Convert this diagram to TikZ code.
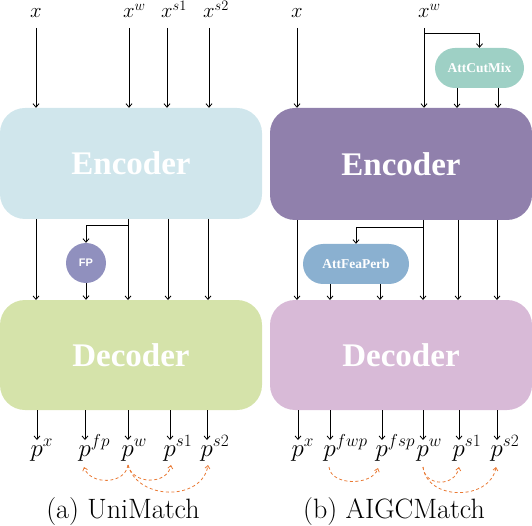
\documentclass[tikz,border=0pt]{standalone}
\usepackage{fontspec}
\newfontfamily\tnr{Liberation Serif}
\newfontfamily\arl{Liberation Sans}
\usetikzlibrary{arrows.meta,calc}
\definecolor{encLc}{HTML}{D0E6EC}
\definecolor{decLc}{HTML}{D5E3AA}
\definecolor{encRc}{HTML}{9080AC}
\definecolor{decRc}{HTML}{D8BAD7}
\definecolor{fpc}{HTML}{9090BE}
\definecolor{cutc}{HTML}{9ED0C5}
\definecolor{feac}{HTML}{8AB0D0}
\definecolor{orng}{HTML}{E97A35}
\tikzset{
  blk/.style={rounded corners=25pt, inner sep=0pt, text=white, font=\tnr\bfseries\fontsize{33}{36}\selectfont},
  pill/.style={rounded corners=20pt, minimum height=40pt, inner sep=0pt, text=white, font=\tnr\bfseries\fontsize{13.5}{14}\selectfont},
  arr/.style={line width=0.8pt, -{Straight Barb[length=3.5pt,width=6pt]}},
  supv/.style={orng, line width=0.8pt, dash pattern=on 3pt off 2.5pt, -{Straight Barb[length=3pt,width=5pt]}},
  lab/.style={inner sep=0pt, font=\fontsize{22}{24}\selectfont, anchor=base west},
  plab/.style={inner sep=0pt, font=\fontsize{24}{26}\selectfont, anchor=base west},
  captxt/.style={inner sep=0pt, font=\fontsize{28}{30}\selectfont, anchor=base}
}
\begin{document}
\begin{tikzpicture}[x=1pt,y=-1pt]
\useasboundingbox (0,0) rectangle (532,526);
% ---------- left panel ----------
\node[blk, fill=encLc, minimum width=262pt, minimum height=111pt] (encL) at (131,163.5) {Encoder};
\node[blk, fill=decLc, minimum width=262pt, minimum height=110pt] (decL) at (131,355) {Decoder};
\node[circle, fill=fpc, minimum size=40pt, inner sep=0pt, text=white, font=\arl\bfseries\fontsize{11}{12}\selectfont] (fp) at (86,263) {FP};
% inputs
\coordinate (ax) at (36,28);
\coordinate (aw) at (129,28);
\coordinate (as1) at (167,28);
\coordinate (as2) at (209,28);
\node[lab] (lx) at (30,18) {$x$};
\node[lab] (lw) at (123,18) {$x^{w}$};
\node[lab] (ls1) at (161,18) {$x^{s1}$};
\node[lab] (ls2) at (203,18) {$x^{s2}$};
\foreach \c in {ax,aw,as1,as2} \draw[arr] (\c) -- (\c |- encL.north);
% middle
\foreach \xx in {36,128,168,208} \draw[arr] (\xx,219) -- (\xx,300);
\coordinate (bL) at (128,225);
\draw[arr] (bL) -| (fp.north);
\draw[arr] (fp.south) -- (fp.south |- decL.north);
% outputs
\foreach \xx in {37,85,128,170,207} \draw[arr] (\xx,410) -- (\xx,440);
\node[plab] (px) at (30.5,456) {$p^{x}$};
\node[plab] (pfp) at (78.5,456) {$p^{fp}$};
\node[plab] (pw) at (121.5,456) {$p^{w}$};
\node[plab] (ps1) at (163.5,456) {$p^{s1}$};
\node[plab] (ps2) at (200.5,456) {$p^{s2}$};
\coordinate (cfp) at (84,467);
\coordinate (cw) at (128,465);
\coordinate (cs1) at (171,465);
\coordinate (cs2) at (208,465);
\draw[supv] (cw) .. controls (125,485) and (90,485) .. (cfp);
\draw[supv] (cw) .. controls (133,485) and (167,485) .. (cs1);
\draw[supv] (cw) .. controls (138,501) and (202,501) .. (cs2);
\node[captxt] (capa) at (123,518) {(a) UniMatch};
% ---------- right panel ----------
\node[blk, fill=encRc, minimum width=262pt, minimum height=112pt] (encR) at (401,164) {Encoder};
\node[blk, fill=decRc, minimum width=262pt, minimum height=110pt] (decR) at (401,355) {Decoder};
\node[pill, fill=cutc, minimum width=89pt] (cut) at (479.5,68) {AttCutMix};
\node[pill, fill=feac, minimum width=106pt] (fea) at (356,264) {AttFeaPerb};
\coordinate (bx) at (297,28);
\coordinate (bw) at (424,28);
\node[lab] (rx) at (291,18) {$x$};
\node[lab] (rw) at (418,18) {$x^{w}$};
\draw[arr] (bx) -- (bx |- encR.north);
\draw[arr] (bw) -- (bw |- encR.north);
\coordinate (bR) at (424,33);
\draw[arr] (bR) -| (cut.north);
\draw[arr] (457,88) -- (457,108);
\draw[arr] (498,88) -- (498,108);
% middle
\foreach \xx in {297,423,458,497} \draw[arr] (\xx,220) -- (\xx,300);
\coordinate (bR2) at (423,227);
\draw[arr] (bR2) -| (fea.north);
\draw[arr] (330,284) -- (330,300);
\draw[arr] (380,284) -- (380,300);
% outputs
\foreach \xx in {298,330,382,423,459,497} \draw[arr] (\xx,410) -- (\xx,440);
\node[plab] (qx) at (291.5,456) {$p^{x}$};
\node[plab] (qfwp) at (323.5,456) {$p^{fwp}$};
\node[plab] (qfsp) at (375.5,456) {$p^{fsp}$};
\node[plab] (qw) at (416.5,456) {$p^{w}$};
\node[plab] (qs1) at (452.5,456) {$p^{s1}$};
\node[plab] (qs2) at (490.5,456) {$p^{s2}$};
\coordinate (dfwp) at (329,467);
\coordinate (dfsp) at (378,468);
\coordinate (dw) at (423,467);
\coordinate (ds1) at (459,467);
\coordinate (ds2) at (496,467);
\draw[supv] (dfwp) .. controls (331,486) and (372,486) .. (dfsp);
\draw[supv] (dw) .. controls (425,487) and (455,487) .. (ds1);
\draw[supv] (dw) .. controls (427,501) and (490,501) .. (ds2);
\node[captxt] (capb) at (394,518) {(b) AIGCMatch};
\end{tikzpicture}
\end{document}
